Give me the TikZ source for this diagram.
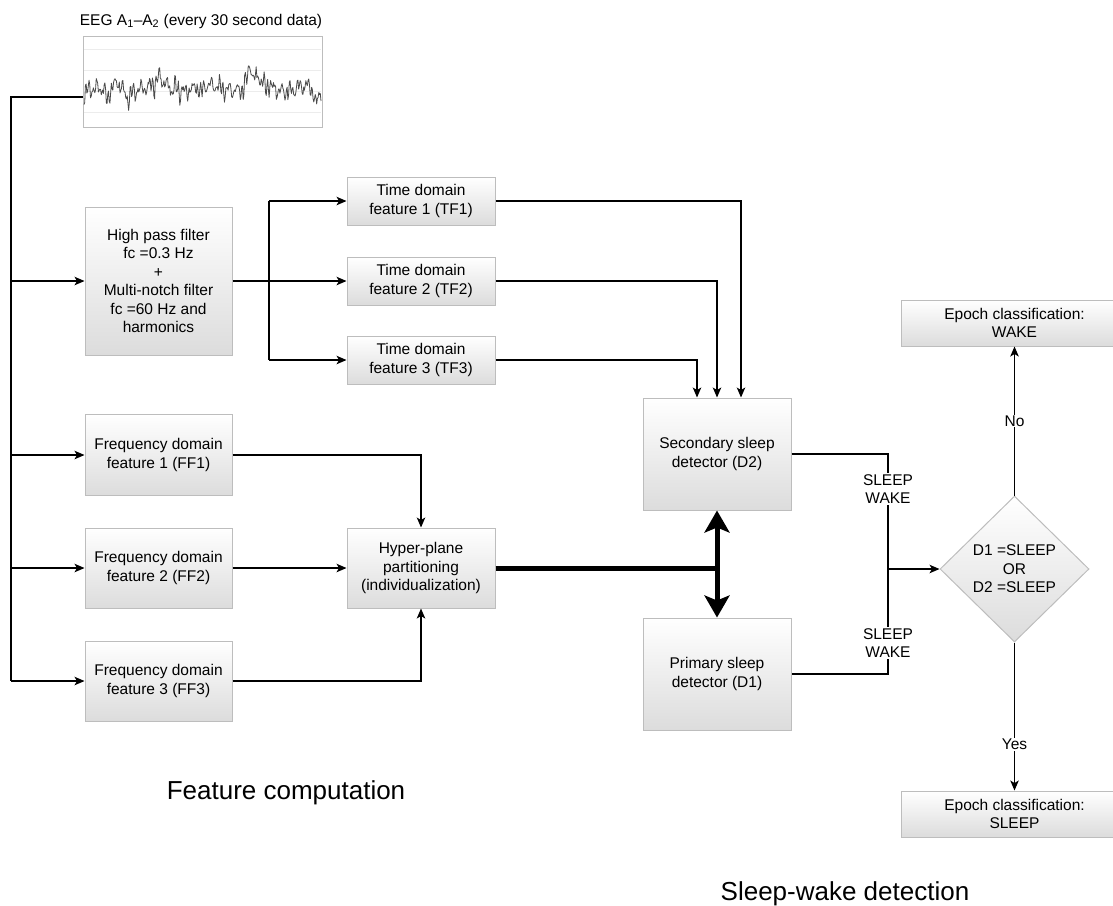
\documentclass[tikz,border=0pt]{standalone}
\usepackage{fontspec}
\setmainfont{Liberation Sans}
\usetikzlibrary{arrows.meta,shapes.geometric,calc}
\definecolor{boxborder}{HTML}{BDBDBD}
\definecolor{boxbottom}{HTML}{DCDCDC}
\definecolor{sig}{HTML}{4A4A4A}
\tikzset{
  base/.style={font=\fontsize{15.5}{18.5}\selectfont, text=black},
  box/.style={base, draw=boxborder, line width=1pt, top color=white, bottom color=boxbottom,
     rectangle, align=center, inner sep=2pt},
  dia/.style={base, draw=boxborder, line width=1pt, top color=white, bottom color=boxbottom,
     diamond, align=center, inner sep=0pt},
  lab/.style={base, align=center, inner sep=1pt},
  conn/.style={line width=1.1pt, draw=black},
  arr/.style={conn, -{Stealth[length=10pt,width=8.5pt,inset=2.5pt]}},
  heavy/.style={line width=5pt, draw=black},
  dblarr/.style={heavy, {Stealth[length=22pt,width=25pt,inset=5pt]}-{Stealth[length=22pt,width=25pt,inset=5pt]}},
  big/.style={font=\fontsize{26}{30}\selectfont}
}
\begin{document}
\begin{tikzpicture}[x=1pt,y=-1pt]
\useasboundingbox (0,0) rectangle (1113,905);

% EEG panel
\node[base, anchor=center] (eegtitle) at (201,21) {EEG A\textsubscript{1}–A\textsubscript{2} (every 30 second data)};
\node[draw=boxborder, line width=1pt, fill=white, minimum width=239pt, minimum height=91pt, inner sep=0pt] (eeg) at (202.5,81.5) {};
\foreach \yy in {49,70,91,112} {
  \draw[gray!15, line width=0.7pt] (84,\yy) -- (321,\yy);
}
\pgfmathsetseed{17}
\draw[sig, line width=0.8pt, line join=round] plot[domain=-116:121, samples=330, variable=\u]
  (\u+200, {88 - (5*sin(41*\u) + 4*sin(97*\u+20) + 3.2*sin(129*\u+50) + 2.6*sin(113*\u+10) + 3*sin(7*\u+30) + 3.2*rand
     + 22/(1+((\u-50)/2.2)^2) + 10/(1+((\u-58)/2)^2) + 9/(1+((\u+40)/2)^2) + 7/(1+((\u+82)/2)^2)
     - 17/(1+((\u+93)/2)^2) - 20/(1+((\u-116)/2.2)^2) - 9/(1+((\u+72)/2)^2) - 7/(1+((\u-2)/2)^2))});

% Feature computation boxes
\node[box, minimum width=147pt, minimum height=148pt] (hp) at (158.5,281)
  {High pass filter\\fc =0.3 Hz\\+\\Multi-notch filter\\fc =60 Hz and\\harmonics};
\node[box, minimum width=148pt, minimum height=48pt] (tf1) at (421,201) {Time domain\\feature 1 (TF1)};
\node[box, minimum width=148pt, minimum height=48pt] (tf2) at (421,281) {Time domain\\feature 2 (TF2)};
\node[box, minimum width=148pt, minimum height=48pt] (tf3) at (421,360) {Time domain\\feature 3 (TF3)};
\node[box, minimum width=147pt, minimum height=81pt] (ff1) at (158.5,455) {Frequency domain\\feature 1 (FF1)};
\node[box, minimum width=147pt, minimum height=80pt] (ff2) at (158.5,568) {Frequency domain\\feature 2 (FF2)};
\node[box, minimum width=147pt, minimum height=80pt] (ff3) at (158.5,681) {Frequency domain\\feature 3 (FF3)};
\node[box, minimum width=148pt, minimum height=80pt] (hyp) at (421,568) {Hyper-plane\\partitioning\\(individualization)};

% Detectors
\node[box, minimum width=148pt, minimum height=112pt] (d2) at (717,454) {Secondary sleep\\detector (D2)};
\node[box, minimum width=148pt, minimum height=112pt] (d1) at (717,674) {Primary sleep\\detector (D1)};
\node[dia, minimum width=149pt, minimum height=146pt] (dec) at (1014.5,569) {D1 =SLEEP\\OR\\D2 =SLEEP};
\node[box, minimum width=227pt, minimum height=46pt] (wake) at (1014.5,323) {Epoch classification:\\WAKE};
\node[box, minimum width=227pt, minimum height=46pt] (sleep) at (1014.5,814) {Epoch classification:\\SLEEP};

\node[lab] (sw1) at (888,489) {SLEEP\\WAKE};
\node[lab] (sw2) at (888,643) {SLEEP\\WAKE};

% section titles
\node[big] (fc) at (286,793) {Feature computation};
\node[big] (swd) at (845,894) {Sleep-wake detection};

% bus
\coordinate (eegin) at (83,97);
\coordinate (bustop) at (11,97);
\coordinate (busbot) at (11,681);
\draw[conn] (eegin) -- (bustop) -- (busbot);
\draw[arr] (busbot) -- (ff3.west);
\draw[arr] (bustop |- hp.west) -- (hp.west);
\draw[arr] (bustop |- ff1.west) -- (ff1.west);
\draw[arr] (bustop |- ff2.west) -- (ff2.west);

% split to time-domain features
\coordinate (split) at (269,281);
\draw[arr] (hp.east) -- (tf2.west);
\draw[conn] (split |- tf1.west) -- (split |- tf3.west);
\draw[arr] (split |- tf1.west) -- (tf1.west);
\draw[arr] (split |- tf3.west) -- (tf3.west);

% time features to D2
\draw[arr] (tf1.east) -| ([xshift=24pt]d2.north);
\draw[arr] (tf2.east) -| (d2.north);
\draw[arr] (tf3.east) -| ([xshift=-20pt]d2.north);

% frequency features to hyperplane
\draw[arr] (ff1.east) -| (hyp.north);
\draw[arr] (ff2.east) -- (hyp.west);
\draw[arr] (ff3.east) -| (hyp.south);

% hyperplane to detectors
\coordinate (junc) at (717,568);
\draw[heavy] (hyp.east) -- (junc);
\draw[dblarr] (d2.south) -- (d1.north);

% detector outputs
\draw[conn] (d2.east) -| (sw1.north);
\draw[conn] (sw1.south) -- (sw2.north);
\draw[conn] (sw2.south) |- (d1.east);
\draw[arr] (sw1 |- dec.west) -- (dec.west);

% decision outputs
\draw[arr] (dec.north) -- node[lab, fill=white, pos=0.5] (no) {No} (wake.south);
\draw[arr] (dec.south) -- node[lab, fill=white, pos=0.69] (yes) {Yes} (sleep.north);
\end{tikzpicture}
\end{document}
